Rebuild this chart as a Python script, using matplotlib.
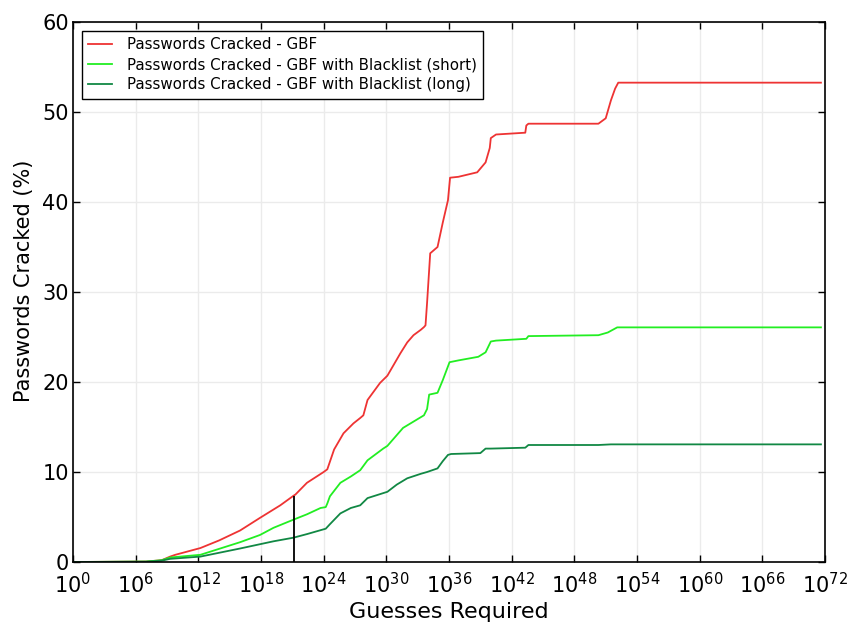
import matplotlib
matplotlib.use('Agg')
import matplotlib.pyplot as plt
import numpy as np

# x values are exponents of 10 (guesses = 10**exp)
gbf_exp = [0, 7.0, 8.5, 9.3, 9.8, 12.2, 14.0, 16.0, 17.9, 19.85, 21.1, 21.3, 22.4, 24.0,
           24.35, 25.0, 25.9, 26.85, 27.5, 27.8, 28.2, 29.4, 30.1, 30.7, 31.35, 32.0, 32.6,
           33.3, 33.6, 33.75, 33.9, 34.2, 34.9, 35.4, 35.9, 36.1, 36.9, 38.7, 39.5, 39.9,
           40.0, 40.5, 43.3, 43.4, 43.6, 50.3, 51.0, 51.5, 51.9, 52.2, 71.6]
gbf_val = [0, 0.05, 0.2, 0.6, 0.8, 1.55, 2.4, 3.5, 4.9, 6.3, 7.35, 7.5, 8.8, 10.0,
           10.3, 12.5, 14.3, 15.4, 16.0, 16.3, 18.0, 19.9, 20.7, 21.9, 23.2, 24.4, 25.2,
           25.8, 26.1, 26.3, 28.8, 34.3, 35.0, 37.7, 40.2, 42.7, 42.8, 43.3, 44.4, 46.0,
           47.1, 47.5, 47.7, 48.5, 48.7, 48.7, 49.3, 51.3, 52.6, 53.26, 53.26]

short_exp = [0, 7.0, 8.5, 9.3, 12.2, 16.0, 17.9, 19.2, 21.1, 22.4, 23.7, 24.2, 24.35, 24.6,
             25.6, 26.6, 27.5, 28.2, 29.7, 30.1, 31.6, 32.6, 33.6, 33.9, 34.1, 34.9, 35.4,
             36.05, 36.9, 38.8, 39.5, 40.0, 40.5, 43.4, 43.6, 50.3, 51.2, 52.1, 71.6]
short_val = [0, 0.05, 0.2, 0.5, 0.8, 2.2, 3.0, 3.8, 4.7, 5.3, 6.0, 6.1, 6.5, 7.3,
             8.8, 9.5, 10.2, 11.3, 12.6, 12.9, 14.9, 15.6, 16.3, 17.0, 18.6, 18.8, 20.2,
             22.2, 22.4, 22.8, 23.3, 24.5, 24.6, 24.8, 25.1, 25.2, 25.5, 26.07, 26.07]

long_exp = [0, 7.0, 8.5, 9.3, 12.2, 16.0, 19.2, 21.1, 22.4, 24.2, 24.6, 25.6, 26.6, 27.5,
            28.2, 30.1, 31.0, 32.0, 33.3, 33.9, 34.9, 35.4, 35.9, 36.2, 39.0, 39.5, 40.0,
            43.3, 43.6, 50.3, 51.5, 71.6]
long_val = [0, 0.03, 0.15, 0.35, 0.6, 1.5, 2.3, 2.7, 3.1, 3.7, 4.2, 5.4, 6.0, 6.3,
            7.1, 7.8, 8.6, 9.3, 9.8, 10.0, 10.4, 11.2, 11.9, 12.0, 12.1, 12.6, 12.6,
            12.7, 13.0, 13.0, 13.07, 13.07]

marker_exp = 21.2
marker_val = 7.37

labels = ['Passwords Cracked - GBF',
          'Passwords Cracked - GBF with Blacklist (short)',
          'Passwords Cracked - GBF with Blacklist (long)']

fig = plt.figure(figsize=(8.48, 6.25), dpi=100)
ax = fig.add_axes([0.086, 0.1008, 0.887, 0.864])

ax.plot(10.0 ** np.array(gbf_exp), gbf_val, color='#ee3333', lw=1.3, label=labels[0])
ax.plot(10.0 ** np.array(short_exp), short_val, color='#22ee22', lw=1.3, label=labels[1])
ax.plot(10.0 ** np.array(long_exp), long_val, color='#118844', lw=1.3, label=labels[2])
ax.vlines(10.0 ** marker_exp, 0, marker_val, color='black', lw=1.3)

ax.set_xscale('log')
ax.set_xlim(1, 1e72)
ax.set_ylim(0, 60)
ax.set_xticks(10.0 ** np.arange(0, 73, 6))
ax.xaxis.set_minor_locator(matplotlib.ticker.NullLocator())
ax.set_yticks(np.arange(0, 61, 10))

ax.grid(True, color='#ebebeb', lw=1)
ax.set_axisbelow(True)
ax.tick_params(direction='in', top=True, right=True, length=5, width=1, labelsize=15)
ax.tick_params(axis='x', pad=7)
ax.tick_params(axis='y', pad=3)
for s in ax.spines.values():
    s.set_linewidth(1.2)

ax.set_xlabel('Guesses Required', fontsize=16)
ax.set_ylabel('Passwords Cracked (%)', fontsize=15)
ax.yaxis.set_label_coords(-0.052, 0.52)

leg = ax.legend(loc='upper left', fontsize=10.8, fancybox=False, edgecolor='black',
                framealpha=1, borderaxespad=0.6, handlelength=1.6, handletextpad=1.0,
                labelspacing=0.35)
leg.get_frame().set_linewidth(1)

fig.savefig('out.png', dpi=100)
